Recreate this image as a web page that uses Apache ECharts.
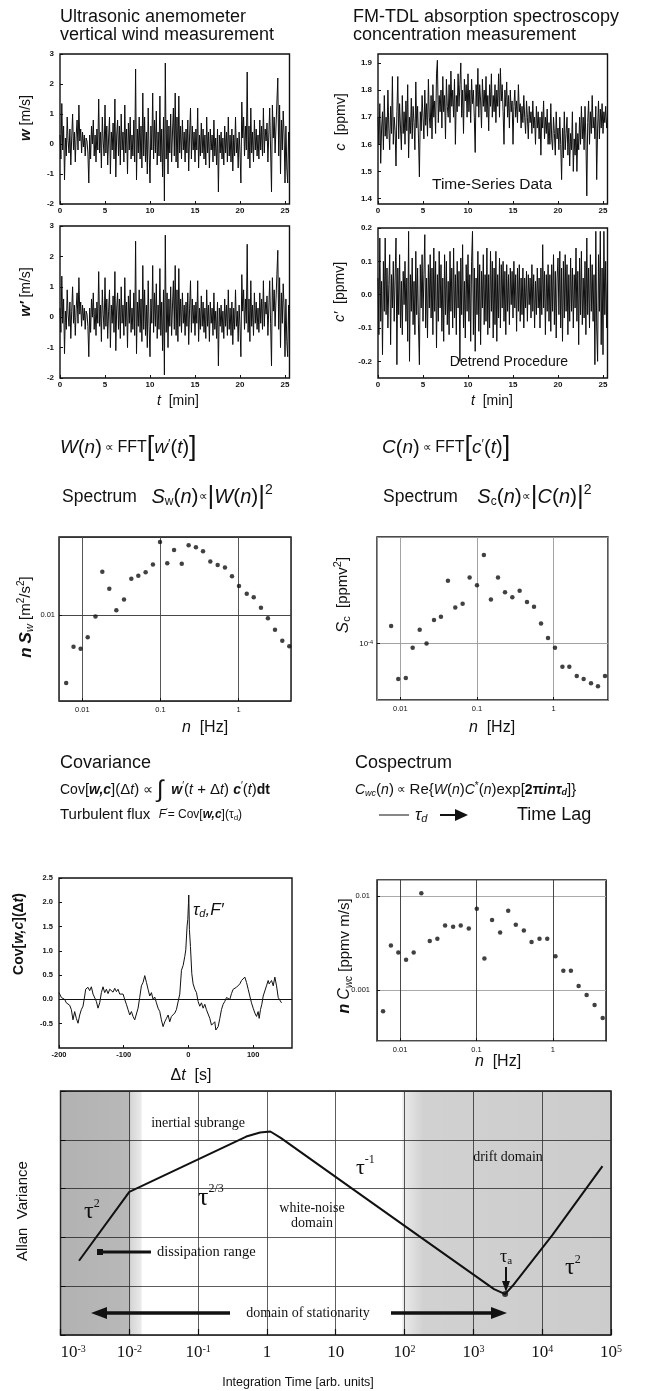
<!DOCTYPE html>
<html>
<head>
<meta charset="utf-8">
<title>Flux measurement chain</title>
<script src="https://cdn.jsdelivr.net/npm/echarts@6.0.0/dist/echarts.min.js"></script>
<style>
  html, body { margin: 0; padding: 0; background: #fff; }
  #chart { width: 663px; height: 1391px; }
</style>
</head>
<body>
<div id="chart"></div>
<script>
const sans = '"Liberation Sans", Arial, sans-serif';
const serif = '"Liberation Serif", "Times New Roman", serif';
const ink = '#111';

// traced time series, one sample every timeStep minutes (10 per row = 1 min)
const timeStep = 0.1;
const wSeries = [
  0.3, -0.5, 1.35, -0.2, 0.6, -1.2, 0.2, -0.4, 0.9, 0.1,
  -0.3, 0.5, -0.7, 0.2, 1.0, -0.2, 0.4, -0.6, 0.3, 0.8,
  -0.2, 1.3, 0.1, 0.5, -0.3, 0.4, -0.1, 0.3, -0.4, 0.2,
  0.1, -0.3, -1.3, 0.3, -0.5, 0.6, 0.0, 0.8, -0.4, 0.3,
  -0.6, 0.5, -0.2, 1.5, -0.3, 0.4, -0.8, 0.9, 0.1, -0.4,
  1.3, -0.3, 0.6, -0.7, 0.2, 0.9, -1.0, 0.4, -0.2, 0.7,
  -0.5, 1.5, -1.1, 0.3, 0.8, -0.4, 0.6, -0.7, 1.0, -0.2,
  0.4, -0.6, 1.3, -0.3, 0.5, -1.0, 0.7, -0.2, 0.9, -0.5,
  0.3, -0.4, 0.8, -0.6, 2.5, -1.2, 0.5, -0.3, 0.9, -0.5,
  0.6, -0.8, 1.7, -0.4, 0.9, -0.6, 0.4, -1.0, 1.2, -0.3,
  -1.3, 0.6, -0.2, 1.7, -0.5, 0.8, -0.3, 1.1, -0.7, 0.4,
  -0.4, 1.6, -0.6, 0.5, -1.1, 0.9, -1.9, 2.7, -0.5, 0.8,
  -1.0, 0.6, -0.3, 1.0, -0.6, 0.4, 1.2, -0.4, 1.7, -0.6,
  0.9, -0.8, 1.6, -0.3, 0.6, -0.5, 0.8, -0.2, 0.4, -0.6,
  0.5, -0.3, 0.8, -0.9, 0.3, 1.2, -0.5, 0.6, -0.2, 0.4,
  -0.6, 0.5, -0.2, 1.2, -0.8, 0.3, -0.4, 0.7, -0.3, 0.5,
  -0.5, 0.3, -0.7, 0.9, -0.3, 0.4, -0.8, 0.5, -0.2, 0.3,
  -0.6, 0.8, -0.4, 0.2, -0.7, 0.5, -1.6, 0.3, -0.3, 0.4,
  -0.5, 0.2, -0.7, 0.6, -0.3, 0.4, -0.6, 0.9, -0.4, 0.3,
  -0.6, 0.5, -0.9, 0.3, -0.4, 0.9, -0.3, 0.2, -0.8, 0.4,
  -0.3, -1.3, 1.4, 0.2, 0.9, -0.4, 0.6, -0.2, 2.4, -0.5,
  0.6, -0.8, 1.2, -0.3, 0.4, -0.6, 0.8, -0.2, 0.5, -0.4,
  0.3, -0.5, 0.8, -0.2, 0.6, -0.4, 1.2, -0.3, 0.5, 0.1,
  0.7, -0.6, 0.3, 1.2, -0.2, -1.6, 1.3, 0.2, 0.9, -0.3,
  0.6, 1.4, 2.2, -0.4, 1.3, -1.0, 0.8, -0.2, 1.1, 0.3,
  -1.3, 0.6, -0.8, -1.3, 0.4, -0.5
];
// w' panel shows the same trace (trend is negligible)
const wDetrended = wSeries;
const cSeries = [
  1.70, 1.60, 1.75, 1.53, 1.66, 1.72, 1.58, 1.78, 1.63, 1.70,
  1.62, 1.80, 1.66, 1.58, 1.74, 1.64, 1.85, 1.60, 1.70, 1.65,
  1.52, 1.72, 1.85, 1.62, 1.75, 1.66, 1.58, 1.78, 1.64, 1.72,
  1.60, 1.76, 1.65, 1.82, 1.55, 1.70, 1.64, 1.77, 1.62, 1.74,
  1.68, 1.58, 1.83, 1.66, 1.74, 1.62, 1.48, 1.72, 1.65, 1.78,
  1.70, 1.62, 1.80, 1.67, 1.75, 1.63, 1.84, 1.70, 1.66, 1.78,
  1.62, 1.82, 1.70, 1.76, 1.64, 1.86, 1.91, 1.68, 1.78, 1.72,
  1.80, 1.66, 1.85, 1.72, 1.78, 1.62, 1.84, 1.74, 1.70, 1.82,
  1.68, 1.87, 1.74, 1.80, 1.70, 1.84, 1.60, 1.78, 1.72, 1.86,
  1.74, 1.82, 1.90, 1.70, 1.80, 1.64, 1.84, 1.76, 1.82, 1.70,
  1.86, 1.72, 1.80, 1.68, 1.84, 1.75, 1.80, 1.70, 1.57, 1.82,
  1.74, 1.88, 1.70, 1.82, 1.76, 1.66, 1.84, 1.74, 1.80, 1.72,
  1.85, 1.70, 1.78, 1.65, 1.82, 1.74, 1.86, 1.70, 1.78, 1.72,
  1.82, 1.68, 1.80, 1.74, 1.86, 1.70, 1.88, 1.76, 1.82, 1.72,
  1.60, 1.80, 1.74, 1.83, 1.70, 1.78, 1.66, 1.80, 1.72, 1.76,
  1.60, 1.74, 1.80, 1.70, 1.76, 1.68, 1.82, 1.72, 1.75, 1.66,
  1.74, 1.68, 1.78, 1.70, 1.64, 1.76, 1.70, 1.62, 1.74, 1.68,
  1.72, 1.64, 1.76, 1.66, 1.70, 1.60, 1.74, 1.66, 1.72, 1.62,
  1.70, 1.56, 1.72, 1.66, 1.76, 1.62, 1.70, 1.64, 1.73, 1.60,
  1.68, 1.60, 1.75, 1.62, 1.58, 1.70, 1.64, 1.56, 1.72, 1.62,
  1.66, 1.58, 1.70, 1.60, 1.47, 1.66, 1.55, 1.72, 1.58, 1.64,
  1.70, 1.56, 1.66, 1.52, 1.64, 1.58, 1.72, 1.50, 1.62, 1.56,
  1.68, 1.50, 1.64, 1.58, 1.70, 1.60, 1.74, 1.62, 1.70, 1.58,
  1.74, 1.62, 1.41, 1.68, 1.76, 1.60, 1.72, 1.64, 1.78, 1.66,
  1.70, 1.62, 1.74, 1.47, 1.66, 1.76, 1.62, 1.73, 1.66, 1.75,
  1.64, 1.72, 1.68, 1.74, 1.66, 1.70
];
const cDetrended = [
  0.05, -0.12, 0.17, -0.08, 0.04, -0.18, 0.10, -0.05, 0.17, -0.06,
  0.08, -0.10, 0.03, 0.12, -0.15, 0.06, -0.04, 0.10, -0.08, 0.05,
  0.17, -0.21, 0.08, -0.06, 0.12, -0.10, 0.04, -0.12, 0.07, -0.03,
  0.10, -0.08, 0.05, -0.14, 0.19, -0.20, 0.06, -0.05, 0.11, -0.09,
  0.04, -0.12, 0.13, -0.06, 0.08, -0.10, -0.21, 0.09, -0.04, 0.12,
  -0.08, 0.06, 0.18, -0.10, 0.05, -0.13, 0.09, -0.04, 0.12, -0.07,
  0.08, -0.12, 0.14, -0.05, 0.10, -0.16, 0.06, -0.08, 0.13, -0.04,
  0.09, -0.11, 0.05, -0.14, 0.12, -0.06, 0.10, -0.09, 0.04, -0.12,
  0.13, -0.05, 0.08, -0.10, 0.14, -0.07, 0.06, -0.12, 0.10, -0.04,
  0.07, -0.20, 0.11, -0.06, 0.15, -0.10, 0.04, -0.13, 0.09, -0.05,
  0.12, -0.08, 0.06, -0.14, 0.10, 0.19, -0.12, 0.08, -0.17, 0.05,
  -0.06, 0.13, -0.11, 0.09, -0.15, 0.07, -0.04, 0.12, -0.09, 0.06,
  -0.08, 0.14, -0.12, 0.06, -0.10, 0.13, -0.05, 0.10, -0.13, 0.08,
  -0.09, 0.13, -0.14, 0.06, -0.07, 0.11, -0.10, 0.09, -0.04, 0.10,
  -0.08, 0.07, -0.12, 0.09, -0.05, 0.06, -0.09, 0.08, -0.03, 0.07,
  -0.07, 0.10, -0.04, 0.06, -0.11, 0.08, -0.05, 0.09, -0.08, 0.05,
  -0.06, 0.08, -0.10, 0.05, -0.04, 0.07, -0.08, 0.06, -0.03, 0.05,
  -0.07, 0.09, -0.05, 0.06, -0.10, 0.04, -0.06, 0.08, -0.04, 0.05,
  -0.10, 0.08, -0.06, 0.15, -0.04, 0.07, -0.12, 0.06, -0.05, 0.09,
  -0.08, 0.06, -0.11, 0.09, -0.05, 0.12, -0.09, 0.07, -0.13, 0.05,
  0.11, -0.06, 0.13, -0.10, 0.08, -0.14, 0.10, -0.07, 0.12, -0.05,
  0.09, -0.12, 0.06, -0.08, 0.11, -0.05, 0.08, -0.10, 0.06, -0.04,
  0.14, -0.08, 0.07, -0.15, 0.11, -0.06, 0.13, -0.09, 0.05, -0.07,
  0.10, -0.12, 0.17, -0.06, 0.08, -0.10, 0.12, -0.05, 0.09, -0.08,
  0.06, -0.21, 0.19, -0.10, -0.20, 0.12, -0.05, 0.19, -0.15, 0.08,
  -0.18, 0.19, -0.06, 0.10, -0.10, 0.04
];

// spectra [Hz] and spectral densities
const swFreq = [0.0062, 0.0077, 0.0095, 0.0117, 0.0147, 0.018, 0.0221, 0.0272, 0.0341, 0.0423, 0.052, 0.0645, 0.080, 0.0986, 0.122, 0.149, 0.187, 0.229, 0.284, 0.350, 0.434, 0.539, 0.668, 0.822, 1.01, 1.27, 1.56, 1.93, 2.37, 2.92, 3.62, 4.45];
const swValue = [0.00273, 0.00545, 0.00524, 0.00656, 0.00975, 0.0230, 0.0166, 0.0110, 0.0135, 0.0201, 0.0213, 0.0228, 0.0264, 0.0406, 0.0270, 0.0348, 0.0268, 0.0381, 0.0367, 0.0340, 0.0280, 0.0261, 0.0249, 0.0211, 0.0175, 0.0151, 0.0141, 0.0115, 0.00944, 0.00755, 0.00611, 0.00552];
const scFreq = [0.0076, 0.0094, 0.0118, 0.0145, 0.0179, 0.0220, 0.0275, 0.0339, 0.0418, 0.0521, 0.0650, 0.0802, 0.100, 0.123, 0.152, 0.188, 0.232, 0.289, 0.360, 0.449, 0.554, 0.684, 0.843, 1.04, 1.30, 1.60, 2.00, 2.46, 3.07, 3.78, 4.67];
const scValue = [1.40e-4, 5.04e-5, 5.14e-5, 9.2e-5, 1.30e-4, 1.00e-4, 1.57e-4, 1.67e-4, 3.33e-4, 2.00e-4, 2.14e-4, 3.55e-4, 3.06e-4, 5.48e-4, 2.33e-4, 3.55e-4, 2.68e-4, 2.43e-4, 2.75e-4, 2.22e-4, 2.02e-4, 1.47e-4, 1.11e-4, 9.2e-5, 6.39e-5, 6.39e-5, 5.35e-5, 5.04e-5, 4.64e-5, 4.38e-5, 5.35e-5];

// covariance vs lag [s]
const lagSeconds = [
  -200, -196.4, -193.8, -191.2, -188.7, -186.1, -183.5, -180.9, -178.4, -175.8,
  -173.2, -170.6, -168, -165.5, -162.9, -160.3, -158.8, -155.2, -152.6, -150,
  -147.4, -144.8, -142.3, -139.7, -137.1, -134.5, -132, -129.4, -126.8, -124.2,
  -121.6, -119.1, -116.5, -113.9, -111.3, -108.8, -106.2, -103.6, -101, -98.5,
  -95.9, -93.3, -90.7, -88.1, -85.6, -83, -80.4, -77.8, -75.3, -72.7,
  -70.1, -67.5, -64.9, -62.4, -59.8, -57.2, -54.6, -52.1, -49.5, -46.9,
  -44.3, -41.8, -39.2, -36.6, -34, -31.4, -28.9, -26.3, -23.7, -21.1,
  -18.6, -16, -13.4, -10.8, -8.2, -5.7, -4.1, -2.1, -1, 0,
  0.5, 1.5, 3.1, 5.2, 7.2, 9.8, 12.4, 14.9, 17.5, 20.1,
  22.7, 25.3, 27.8, 30.4, 33, 35.6, 38.1, 40.7, 42.3, 44.3,
  45.9, 48.5, 51, 53.6, 56.2, 58.8, 61.3, 63.9, 66.5, 69.1,
  71.6, 74.2, 76.8, 79.4, 82, 84.5, 87.1, 89.7, 92.3, 94.8,
  97.4, 100, 102.6, 105.2, 107.7, 109.3, 111.3, 113.4, 115.5, 118,
  120.6, 123.2, 124.7, 126.8, 128.4, 131, 133.5, 136.1, 138.7, 141.2,
  143.8
];
const covValue = [
  0.14, 0.04, 0.07, 0, -0.07, -0.1, -0.12, -0.21, -0.42, -0.25,
  -0.39, -0.49, -0.32, -0.21, -0.14, 0.07, 0.21, 0.25, 0.18, 0.26,
  0.11, 0.14, -0.04, -0.18, -0.07, 0.14, 0.26, 0.14, 0.21, 0.12,
  0.21, 0.23, 0.15, 0.23, 0.16, 0.21, 0.11, 0.15, 0.11, 0,
  -0.1, -0.21, -0.32, -0.25, -0.35, -0.42, -0.39, -0.18, 0.04, 0.28,
  0.35, 0.49, 0.35, 0.21, 0.07, 0.14, 0, 0.05, -0.07, -0.18,
  -0.25, -0.42, -0.56, -0.46, -0.39, -0.32, -0.46, -0.35, -0.39, -0.28,
  -0.21, -0.18, 0.11, 0.6, 0.7, 0.88, 1.02, 1.51, 1.65, 1.97,
  2.15, 1.44, 1.09, 0.53, 0.32, 0.21, 0.14, -0.04, -0.14, -0.07,
  -0.18, -0.1, -0.21, -0.25, -0.39, -0.53, -0.56, -0.46, -0.63, -0.67,
  -0.56, -0.39, -0.21, -0.1, -0.04, 0.04, 0.07, 0, 0.12, 0.21,
  0.23, 0.25, 0.26, 0.32, 0.39, 0.42, 0.46, 0.35, 0.21, 0.07,
  -0.07, -0.18, -0.28, -0.35, -0.25, -0.39, -0.21, -0.1, 0.07, 0.11,
  0.28, 0.39, 0.32, 0.35, 0.39, 0.28, 0.46, 0.28, 0.04, 0,
  -0.07
];

// cospectrum
const cwcFreq = [0.0060, 0.0076, 0.0095, 0.0120, 0.0151, 0.0190, 0.0245, 0.0308, 0.0389, 0.0495, 0.0623, 0.0794, 0.101, 0.127, 0.160, 0.204, 0.260, 0.327, 0.417, 0.526, 0.668, 0.843, 1.08, 1.37, 1.72, 2.17, 2.76, 3.51, 4.48];
const cwcValue = [5.98e-4, 2.99e-3, 2.52e-3, 2.10e-3, 2.52e-3, 1.067e-2, 3.32e-3, 3.51e-3, 4.87e-3, 4.72e-3, 4.87e-3, 4.53e-3, 7.33e-3, 2.17e-3, 5.56e-3, 4.11e-3, 6.98e-3, 4.95e-3, 4.31e-3, 3.24e-3, 3.51e-3, 3.51e-3, 2.30e-3, 1.61e-3, 1.61e-3, 1.11e-3, 8.92e-4, 6.98e-4, 5.08e-4];

// Allan variance sketch (arb. units)
const allanTau = [0.00186, 0.01, 0.1, 0.501, 0.794, 1.122, 1.585, 17.3, 162.6, 1995, 2891, 3724, 14030, 75160];
const allanVar = [33.2, 857, 3981, 11640, 14130, 14790, 10960, 1000, 106, 8.7, 6.9, 10.2, 111, 2877];
const allanMinTau = [2891];
const allanMinVar = [6.9];

const timed = values => values.map((v, i) => [+(i * timeStep).toFixed(2), v]);
const zip = (xs, ys) => xs.map((x, i) => [x, ys[i]]);

// rich text helpers
const R = (size, extra) => Object.assign({ fontSize: size, fontFamily: sans }, extra || {});
const RS = (size, extra) => Object.assign({ fontSize: size, fontFamily: serif }, extra || {});
const ital = { fontStyle: 'italic' };
const boldItal = { fontStyle: 'italic', fontWeight: 'bold' };
const up = pad => ({ padding: [0, 0, pad, 0] });
const down = pad => ({ padding: [pad, 0, 0, 0] });
const mix = (...parts) => Object.assign({}, ...parts);

function label(x, y, text, rich, font, align, rotate) {
  return {
    type: 'text', x, y, z: 100, silent: true,
    rotation: rotate ? Math.PI / 2 : 0,
    style: {
      text, rich: rich || {}, fill: ink, font: font || ('14px ' + sans),
      align: align || 'left', verticalAlign: 'middle',
      textAlign: align || 'left', textVerticalAlign: 'middle'
    }
  };
}
const bar = (x1, y1, x2, y2, w) => ({ type: 'line', z: 100, silent: true, shape: { x1, y1, x2, y2 }, style: { stroke: ink, lineWidth: w } });
const head = pts => ({ type: 'polygon', z: 100, silent: true, shape: { points: pts }, style: { fill: ink } });

const frames = [
  [60, 54, 229.5, 150],
  [378, 54, 229.5, 150],
  [60, 226, 229.5, 152],
  [378, 228, 229.5, 150],
  [59, 537, 232, 164],
  [377, 537, 231, 163],
  [59, 878, 233, 170],
  [377, 880, 229, 161],
  [60.5, 1091, 550.5, 244]
];
const grid = frames.map(([left, top, width, height]) => ({
  left, top, width, height, show: true, borderColor: ink, borderWidth: 1.4,
  backgroundColor: 'rgba(0,0,0,0)', outerBoundsMode: 'none'
}));

const tsLabel = { color: ink, fontFamily: sans, fontSize: 8, fontWeight: 'bold' };
const smallLabel = { color: ink, fontFamily: sans, fontSize: 7.5 };
const decimal1 = v => v.toFixed(1);
const plainNum = v => String(Number(v.toPrecision(2)));

function axis(gridIndex, extra) {
  return Object.assign({
    gridIndex,
    axisLine: { show: false, onZero: false },
    axisTick: { show: true, inside: true, length: 3, lineStyle: { color: ink, width: 1 } },
    splitLine: { show: false }
  }, extra);
}
const timeAxis = g => axis(g, { type: 'value', min: 0, max: 25.5, interval: 5, axisLabel: Object.assign({ margin: 3, showMaxLabel: false }, tsLabel) });
const freqAxis = (g, min, max, color) => axis(g, {
  type: 'log', logBase: 10, min, max,
  axisLabel: Object.assign({ margin: 5, formatter: plainNum, showMinLabel: false, showMaxLabel: false }, smallLabel),
  splitLine: { show: true, lineStyle: { color, width: 0.9 } }
});

const xAxis = [
  timeAxis(0), timeAxis(1), timeAxis(2), timeAxis(3),
  freqAxis(4, 0.00502, 4.68, '#444'),
  freqAxis(5, 0.00497, 5.11, '#999'),
  axis(6, { type: 'value', min: -200, max: 160, interval: 100,
    axisLabel: Object.assign({ margin: 3, showMaxLabel: false }, tsLabel, { fontSize: 7.5 }) }),
  freqAxis(7, 0.0050, 4.95, '#333'),
  axis(8, {
    type: 'log', logBase: 10, min: 0.001, max: 1e5,
    axisTick: { show: true, inside: true, length: 6, lineStyle: { color: ink, width: 1.2 } },
    splitLine: { show: true, lineStyle: { color: '#333', width: 0.8 } },
    axisLabel: {
      margin: 9, color: ink, fontFamily: serif, fontSize: 17, alignMinLabel: 'left',
      formatter: v => {
        const e = Math.round(Math.log10(v));
        if (e === 0) return '1';
        if (e === 1) return '10';
        return '{b|10}{s|' + e + '}';
      },
      rich: { b: RS(17, { color: ink }), s: RS(10, { color: ink, verticalAlign: 'top' }) }
    }
  })
];

const yAxis = [
  axis(0, { type: 'value', min: -2, max: 3, interval: 1, axisLabel: Object.assign({ margin: 6 }, tsLabel) }),
  axis(1, { type: 'value', min: 1.38, max: 1.933,
    axisLabel: Object.assign({ margin: 6, formatter: decimal1, showMinLabel: false, showMaxLabel: false }, tsLabel) }),
  axis(2, { type: 'value', min: -2, max: 3, interval: 1, axisLabel: Object.assign({ margin: 6 }, tsLabel) }),
  axis(3, { type: 'value', min: -0.25, max: 0.2,
    axisLabel: Object.assign({ margin: 6, formatter: decimal1, showMinLabel: false }, tsLabel) }),
  axis(4, { type: 'log', logBase: 10, min: 0.00193, max: 0.0447,
    axisLabel: Object.assign({ margin: 4, formatter: plainNum, showMinLabel: false, showMaxLabel: false }, smallLabel),
    splitLine: { show: true, lineStyle: { color: '#333', width: 0.9 } } }),
  axis(5, { type: 'log', logBase: 10, min: 3.37e-5, max: 7.74e-4,
    axisLabel: Object.assign({
      margin: 4, showMinLabel: false, showMaxLabel: false,
      formatter: v => '{b|10}{s|' + Math.round(Math.log10(v)) + '}',
      rich: { b: R(8, { color: ink }), s: R(5.5, { color: ink, verticalAlign: 'top' }) }
    }, smallLabel),
    splitLine: { show: true, lineStyle: { color: '#999', width: 0.9 } } }),
  axis(6, { type: 'value', min: -1, max: 2.5, interval: 0.5,
    axisLabel: Object.assign({ margin: 6, formatter: decimal1, showMinLabel: false }, tsLabel, { fontSize: 7.5 }) }),
  axis(7, { type: 'log', logBase: 10, min: 2.89e-4, max: 0.01479,
    axisLabel: Object.assign({ margin: 7, formatter: plainNum, showMinLabel: false, showMaxLabel: false }, smallLabel),
    splitLine: { show: true, lineStyle: { color: '#aaa', width: 1.2 } } }),
  axis(8, { type: 'log', logBase: 10, min: 1, max: 1e5,
    axisTick: { show: true, inside: true, length: 5, lineStyle: { color: ink } },
    axisLabel: { show: false },
    splitLine: { show: true, lineStyle: { color: '#333', width: 0.8 } } })
];

const trace = (i, values) => ({
  type: 'line', xAxisIndex: i, yAxisIndex: i, data: timed(values), symbol: 'none',
  silent: true, lineStyle: { color: '#0e0e0e', width: 1 }
});
const dots = (i, xs, ys) => ({
  type: 'scatter', xAxisIndex: i, yAxisIndex: i, data: zip(xs, ys),
  symbolSize: 4.5, itemStyle: { color: ink }, silent: true
});

const shadeLeft = { type: 'linear', x: 0, y: 0, x2: 1, y2: 0, colorStops: [
  { offset: 0, color: 'rgba(0,0,0,0.30)' }, { offset: 0.84, color: 'rgba(0,0,0,0.28)' },
  { offset: 0.87, color: 'rgba(0,0,0,0.16)' }, { offset: 1, color: 'rgba(0,0,0,0.08)' } ] };
const shadeRight = { type: 'linear', x: 0, y: 0, x2: 1, y2: 0, colorStops: [
  { offset: 0, color: 'rgba(0,0,0,0.08)' }, { offset: 0.1, color: 'rgba(0,0,0,0.18)' },
  { offset: 1, color: 'rgba(0,0,0,0.20)' } ] };

const series = [
  trace(0, wSeries), trace(1, cSeries), trace(2, wDetrended), trace(3, cDetrended),
  dots(4, swFreq, swValue), dots(5, scFreq, scValue),
  {
    type: 'line', xAxisIndex: 6, yAxisIndex: 6, data: zip(lagSeconds, covValue), symbol: 'none',
    silent: true, lineStyle: { color: ink, width: 1 },
    markLine: { silent: true, symbol: 'none', label: { show: false }, lineStyle: { color: ink, width: 1, type: 'solid' }, data: [{ yAxis: 0 }] }
  },
  dots(7, cwcFreq, cwcValue),
  {
    type: 'line', xAxisIndex: 8, yAxisIndex: 8, data: zip(allanTau, allanVar), symbol: 'none',
    silent: true, lineStyle: { color: ink, width: 2 },
    markArea: { silent: true, label: { show: false }, data: [
      [{ xAxis: 0.001, itemStyle: { color: shadeLeft } }, { xAxis: 0.0151 }],
      [{ xAxis: 93, itemStyle: { color: shadeRight } }, { xAxis: 1e5 }]
    ] }
  },
  { type: 'scatter', xAxisIndex: 8, yAxisIndex: 8, data: zip(allanMinTau, allanMinVar), symbolSize: 6, itemStyle: { color: ink }, silent: true, z: 5 }
];

const title18 = '18px ' + sans;
const graphics = [
  label(60, 17, 'Ultrasonic anemometer', null, title18),
  label(60, 35, 'vertical wind measurement', null, title18),
  label(353, 17, 'FM-TDL absorption spectroscopy', null, title18),
  label(353, 35, 'concentration measurement', null, title18),

  label(26, 118, '{bi|w} {n|[m/s]}', { bi: R(15, boldItal), n: R(14) }, null, 'center', true),
  label(341, 122, '{i|c}  {n|[ppmv]}', { i: R(15, ital), n: R(14) }, null, 'center', true),
  label(26, 292, '{bi|w′} {n|[m/s]}', { bi: R(15, boldItal), n: R(14) }, null, 'center', true),
  label(340, 292, '{i|c′}  {n|[ppmv]}', { i: R(15, ital), n: R(14) }, null, 'center', true),
  label(178, 401, '{i|t}{n|  [min]}', { i: R(14, ital), n: R(14) }, null, 'center'),
  label(492, 401, '{i|t}{n|  [min]}', { i: R(14, ital), n: R(14) }, null, 'center'),
  label(492, 185, 'Time-Series Data', null, '15.5px ' + sans, 'center'),
  label(509, 362, 'Detrend Procedure', null, '14px ' + sans, 'center'),

  label(60, 448, '{i|W}{p|(}{i|n}{p|)}{o| ∝ }{n|FFT}{b|[}{i|w}{q|′}{p|(}{i|t}{p|)}{b|]}',
    { i: R(19, ital), p: R(20), o: R(12), n: R(16), b: R(27), q: R(13, up(8)) }),
  label(382, 448, '{i|C}{p|(}{i|n}{p|)}{o| ∝ }{n|FFT}{b|[}{i|c}{q|′}{p|(}{i|t}{p|)}{b|]}',
    { i: R(19, ital), p: R(20), o: R(12), n: R(16), b: R(27), q: R(13, up(8)) }),
  label(62, 497, '{n|Spectrum}{g|   }{i|S}{sub|w}{p|(}{i|n}{p|)}{o|∝}{b||}{i|W}{p|(}{i|n}{p|)}{b||}{sup|2}',
    { n: R(17.5), g: R(17.5), i: R(20, ital), sub: R(12, down(9)), p: R(21), o: R(12), b: R(26, { fontWeight: 'lighter' }), sup: R(14, up(14)) }),
  label(383, 497, '{n|Spectrum}{g|    }{i|S}{sub|c}{p|(}{i|n}{p|)}{o|∝}{b||}{i|C}{p|(}{i|n}{p|)}{b||}{sup|2}',
    { n: R(17.5), g: R(17.5), i: R(20, ital), sub: R(12, down(9)), p: R(21), o: R(12), b: R(26, { fontWeight: 'lighter' }), sup: R(14, up(14)) }),

  label(26, 617, '{bi|n}{g| }{bi|S}{sub|w}{n| [m}{sup|2}{n|/s}{sup|2}{n|]}',
    { bi: R(17, boldItal), g: R(14), sub: R(11, mix(ital, down(8))), n: R(15), sup: R(10, up(9)) }, null, 'center', true),
  label(343, 595, '{i|S}{sub|c}{n|  [ppmv}{sup|2}{n|]}',
    { i: R(17, ital), sub: R(11, down(8)), n: R(15), sup: R(11, up(10)) }, null, 'center', true),
  label(205, 728, '{i|n}{n|  [Hz]}', { i: R(16, ital), n: R(16) }, null, 'center'),
  label(492, 728, '{i|n}{n|  [Hz]}', { i: R(16, ital), n: R(16) }, null, 'center'),

  label(60, 763, 'Covariance', null, title18),
  label(60, 790, '{n|Cov}{p|[}{bi|w,c}{p|](Δ}{i|t}{p|)}{o| ∝ }{s|∫}{bi|  w}{q|′}{p|(}{i|t}{p| + Δ}{i|t}{p|) }{bi|c}{q|′}{p|(}{i|t}{p|)}{bd|dt}',
    { n: R(14), p: R(15), bi: R(14, boldItal), i: R(14, ital), o: R(14), s: R(24, { fontWeight: 'lighter' }), q: R(10, up(8)), bd: R(14, { fontWeight: 'bold' }) }),
  label(60, 815, '{n|Turbulent flux}{g|  }{i|F}{q|′}{m|= Cov[}{bi|w,c}{m|](τ}{sub|d}{m|)}',
    { n: R(15), g: R(15), i: R(12, ital), q: R(9, up(7)), m: R(12), bi: R(12, boldItal), sub: R(8, down(6)) }),
  label(355, 763, 'Cospectrum', null, title18),
  label(355, 790, '{i|C}{sub|wc}{p|(}{i|n}{p|)}{o| ∝ }{p|Re{}{i|W}{p|(}{i|n}{p|)}{i|C}{q|*}{p|(}{i|n}{p|)}{p|exp[}{bd|2π}{bi|in}{bi|τ}{sub2|d}{p|]}}',
    { i: R(14, ital), sub: R(9, mix(ital, down(6))), p: R(15), o: R(12), q: R(10, up(8)), bd: R(14, { fontWeight: 'bold' }), bi: R(14, boldItal), sub2: R(9, mix(boldItal, down(6))) }, '15px ' + sans),
  bar(379, 815, 409, 815, 1),
  label(415, 815, '{i|τ}{sub|d}', { i: R(17, ital), sub: R(11, mix(ital, down(8))) }),
  bar(440, 815, 456, 815, 2),
  head([[468, 815], [455, 809], [455, 821]]),
  label(517, 815, 'Time Lag', null, title18),

  label(19, 934, '{b|Cov[}{bi|w,c}{b|](Δ}{bi|t}{b|)}', { b: R(14, { fontWeight: 'bold' }), bi: R(14, boldItal) }, null, 'center', true),
  label(191, 1076, '{n|Δ}{i|t}{n|  [s]}', { i: R(16, ital), n: R(16) }, null, 'center'),
  label(193, 910, '{i|τ}{sub|d}{i|,F′}', { i: R(17, ital), sub: R(11, mix(ital, down(8))) }),
  label(345, 956, '{bi|n}{n| }{i|C}{sub|wc}{n| [ppmv m/s]}',
    { bi: R(16, boldItal), i: R(16, ital), sub: R(10, mix(ital, down(8))), n: R(15) }, null, 'center', true),
  label(498, 1062, '{i|n}{n|  [Hz]}', { i: R(16, ital), n: R(16) }, null, 'center'),

  label(23, 1211, 'Allan  Variance', null, '15px ' + sans, 'center', true),
  label(298, 1383, 'Integration Time [arb. units]', null, '12.5px ' + sans, 'center'),
  label(198, 1123, 'inertial subrange', null, '14px ' + serif, 'center'),
  label(84, 1212, '{t|τ}{s|2}', { t: RS(24), s: RS(12, up(16)) }),
  label(198, 1198, '{t|τ}{s|2/3}', { t: RS(26), s: RS(12, up(18)) }),
  label(312, 1208, 'white-noise', null, '14px ' + serif, 'center'),
  label(312, 1223, 'domain', null, '14px ' + serif, 'center'),
  label(356, 1168, '{t|τ}{s|-1}', { t: RS(22), s: RS(12, up(16)) }),
  label(508, 1157, 'drift domain', null, '14px ' + serif, 'center'),
  { type: 'rect', z: 100, silent: true, shape: { x: 97, y: 1249, width: 6, height: 6 }, style: { fill: ink } },
  bar(100, 1252, 151, 1252, 3),
  label(157, 1252, 'dissipation range', null, '14.5px ' + serif),
  label(308, 1313, 'domain of stationarity', null, '14px ' + serif, 'center'),
  bar(104, 1313, 230, 1313, 3.5),
  head([[91, 1313], [107, 1307], [107, 1319]]),
  bar(391, 1313, 494, 1313, 3.5),
  head([[507, 1313], [491, 1307], [491, 1319]]),
  label(500, 1257, '{t|τ}{s|a}', { t: RS(18), s: RS(11, down(8)) }),
  bar(506, 1267, 506, 1283, 2),
  head([[506, 1292], [502, 1281], [510, 1281]]),
  label(565, 1268, '{t|τ}{s|2}', { t: RS(24), s: RS(12, up(16)) })
];

const chart = echarts.init(document.getElementById('chart'), null, { renderer: 'canvas' });
chart.setOption({
  animation: false,
  backgroundColor: '#fff',
  grid, xAxis, yAxis, series,
  graphic: { elements: graphics }
});
</script>
</body>
</html>
